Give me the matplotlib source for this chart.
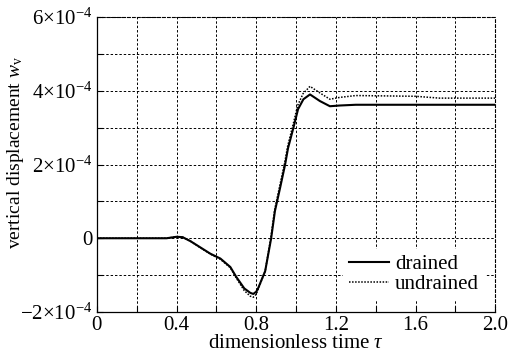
import matplotlib
matplotlib.use("Agg")
import matplotlib.pyplot as plt
from matplotlib.ticker import MultipleLocator

plt.rcParams['font.family'] = ['Liberation Serif', 'DejaVu Serif']
plt.rcParams['mathtext.fontset'] = 'custom'
plt.rcParams['mathtext.rm'] = 'Liberation Serif'
plt.rcParams['mathtext.it'] = 'Liberation Serif:italic'
plt.rcParams['mathtext.bf'] = 'Liberation Serif:bold'
plt.rcParams['font.size'] = 15

# Data (values in units of 1e-4)
tau_drained = [0, 0.35, 0.40, 0.43, 0.47, 0.52, 0.57, 0.62, 0.67, 0.70, 0.74, 0.77, 0.785,
               0.80, 0.81, 0.845, 0.875, 0.894, 0.92, 0.945, 0.96, 0.987, 1.01, 1.037,
               1.07, 1.12, 1.17, 1.22, 1.3, 1.6, 2.0]
w_drained = [0, 0, 0.04, 0.03, -0.08, -0.25, -0.42, -0.55, -0.78, -1.05, -1.36, -1.48, -1.51,
             -1.45, -1.35, -0.89, 0.0, 0.74, 1.37, 2.0, 2.45, 3.0, 3.5, 3.77,
             3.9, 3.72, 3.58, 3.6, 3.62, 3.62, 3.62]

tau_undrained = [0, 0.35, 0.40, 0.43, 0.47, 0.52, 0.57, 0.62, 0.67, 0.70, 0.74, 0.77, 0.785,
                 0.80, 0.81, 0.845, 0.873, 0.892, 0.918, 0.943, 0.958, 0.985, 1.008, 1.035,
                 1.07, 1.12, 1.17, 1.22, 1.3, 1.6, 1.72, 2.0]
w_undrained = [0, 0, 0.04, 0.03, -0.08, -0.26, -0.43, -0.57, -0.80, -1.08, -1.42, -1.57, -1.60,
               -1.52, -1.38, -0.89, 0.0, 0.76, 1.42, 2.05, 2.5, 3.08, 3.6, 3.92,
               4.12, 3.94, 3.77, 3.82, 3.87, 3.85, 3.80, 3.80]

x_ticks = [0, 0.4, 0.8, 1.2, 1.6, 2.0]
x_tick_labels = ['0', '0.4', '0.8', '1.2', '1.6', '2.0']
y_ticks = [-2e-4, 0, 2e-4, 4e-4, 6e-4]
y_tick_labels = [r'$\mathrm{-2{\times}10^{-4}}$', '0', r'$\mathrm{2{\times}10^{-4}}$',
                 r'$\mathrm{4{\times}10^{-4}}$', r'$\mathrm{6{\times}10^{-4}}$']

fig = plt.figure(figsize=(5.10, 3.58), dpi=100)
ax = fig.add_axes([0.190, 0.1285, 0.781, 0.824])

ax.plot(tau_undrained, [v * 1e-4 for v in w_undrained], color='black', lw=1.1,
        linestyle=(0, (1, 1)), label='undrained', zorder=3)
ax.plot(tau_drained, [v * 1e-4 for v in w_drained], color='black', lw=1.5,
        linestyle='-', label='drained', zorder=4)

ax.set_xlim(0, 2.0)
ax.set_ylim(-2e-4, 6e-4)
ax.set_xticks(x_ticks)
ax.set_xticklabels(x_tick_labels)
ax.set_yticks(y_ticks)
ax.set_yticklabels(y_tick_labels)
ax.xaxis.set_minor_locator(MultipleLocator(0.2))
ax.yaxis.set_minor_locator(MultipleLocator(1e-4))

ax.grid(True, which='both', color='black', linestyle=(0, (2.5, 2)), linewidth=0.7)
ax.tick_params(which='both', direction='in', length=4, width=0.8, pad=3)
ax.tick_params(which='both', top=False, right=False)

for s in ['top', 'right']:
    ax.spines[s].set_linestyle((0, (2.5, 2)))
    ax.spines[s].set_linewidth(0.8)
for s in ['left', 'bottom']:
    ax.spines[s].set_linewidth(0.9)

ax.set_xlabel(r'dimensionless time $\tau$', labelpad=-1)
ax.set_ylabel(r'vertical displacement $w_{\mathrm{v}}$', fontsize=14)
ax.yaxis.set_label_coords(-0.178, 0.542)

handles, labels = ax.get_legend_handles_labels()
leg = ax.legend(handles[::-1], labels[::-1], loc='lower right', frameon=True,
                bbox_to_anchor=(0.975, 0.04), borderaxespad=0,
                handlelength=1.9, handletextpad=0.3, labelspacing=0.0,
                borderpad=0.3, fontsize=15)
leg.get_frame().set_facecolor('white')
leg.get_frame().set_edgecolor('none')
leg.get_frame().set_alpha(1)
leg.set_zorder(5)

fig.savefig('out.png', dpi=100)
